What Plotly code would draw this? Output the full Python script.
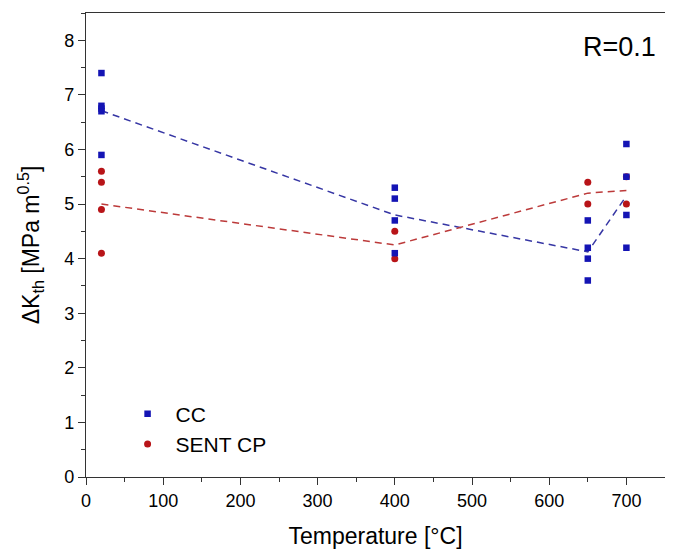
import numpy as np
import plotly.graph_objects as go

# Data
cc_temp = [20, 20, 20, 20, 20, 400, 400, 400, 400, 650, 650, 650, 650, 700, 700, 700, 700]
cc_dk = [7.4, 6.8, 6.75, 6.7, 5.9, 5.3, 5.1, 4.7, 4.1, 4.7, 4.2, 4.0, 3.6, 6.1, 5.5, 4.8, 4.2]

sent_temp = [20, 20, 20, 20, 400, 400, 650, 650, 700, 700]
sent_dk = [5.6, 5.4, 4.9, 4.1, 4.5, 4.0, 5.4, 5.0, 5.0, 5.5]

x_ticks = [0, 100, 200, 300, 400, 500, 600, 700]
y_ticks = [0, 1, 2, 3, 4, 5, 6, 7, 8]

blue = "#1414b4"
red = "#b81418"
blue_line = "#3636a4"
red_line = "#bc3a3a"
FONT = "Liberation Sans, Arial, sans-serif"


def means(t, v):
    ut = sorted(set(t))
    arr_t = np.array(t)
    arr_v = np.array(v)
    return ut, [float(arr_v[arr_t == u].mean()) for u in ut]


cc_mt, cc_mv = means(cc_temp, cc_dk)
se_mt, se_mv = means(sent_temp, sent_dk)

fig = go.Figure()
fig.add_trace(go.Scatter(x=cc_mt, y=cc_mv, mode="lines", showlegend=False,
                         line=dict(color=blue_line, width=1.5, dash="7px,5px"), hoverinfo="skip"))
fig.add_trace(go.Scatter(x=se_mt, y=se_mv, mode="lines", showlegend=False,
                         line=dict(color=red_line, width=1.5, dash="7px,5px"), hoverinfo="skip"))
fig.add_trace(go.Scatter(x=sent_temp, y=sent_dk, mode="markers", name="SENT CP", legendrank=2,
                         marker=dict(symbol="circle", size=7, color=red)))
fig.add_trace(go.Scatter(x=cc_temp, y=cc_dk, mode="markers", name="CC", legendrank=1,
                         marker=dict(symbol="square", size=6.5, color=blue)))

fig.add_annotation(text="R=0.1", xref="paper", yref="paper", x=0.988, y=0.927,
                   xanchor="right", yanchor="middle", showarrow=False,
                   font=dict(size=27, color="#000000", family=FONT))

axis_common = dict(showline=True, linecolor="#333333", linewidth=1.2, mirror=True,
                   ticks="outside", ticklen=7, tickwidth=1.2, tickcolor="#333333",
                   showgrid=False, zeroline=False, automargin=False,
                   tickfont=dict(size=18, color="#000000", family=FONT))

fig.update_xaxes(range=[0, 750], tickvals=x_ticks,
                 minor=dict(ticks="outside", ticklen=4, tickwidth=1.2, tickcolor="#333333", dtick=50, tick0=0),
                 title=dict(text="Temperature [°C]", font=dict(size=23, color="#000000", family=FONT), standoff=23),
                 **axis_common)
fig.update_yaxes(range=[0, 8.5], tickvals=y_ticks,
                 minor=dict(ticks="outside", ticklen=4, tickwidth=1.2, tickcolor="#333333", dtick=0.5, tick0=0),
                 title=dict(text="ΔK<sub>th</sub> [MPa m<sup>0.5</sup>]", font=dict(size=23, color="#000000", family=FONT), standoff=18),
                 **axis_common)

fig.update_layout(
    width=665, height=541,
    margin=dict(l=78, r=8, t=5, b=72),
    plot_bgcolor="white", paper_bgcolor="white",
    font=dict(family=FONT, color="#000000"),
    legend=dict(x=0.058, y=0.18, xanchor="left", yanchor="top", bgcolor="rgba(0,0,0,0)",
                font=dict(size=21, color="#000000", family=FONT), itemwidth=46, tracegroupgap=0),
)

fig.write_html("out.html")
